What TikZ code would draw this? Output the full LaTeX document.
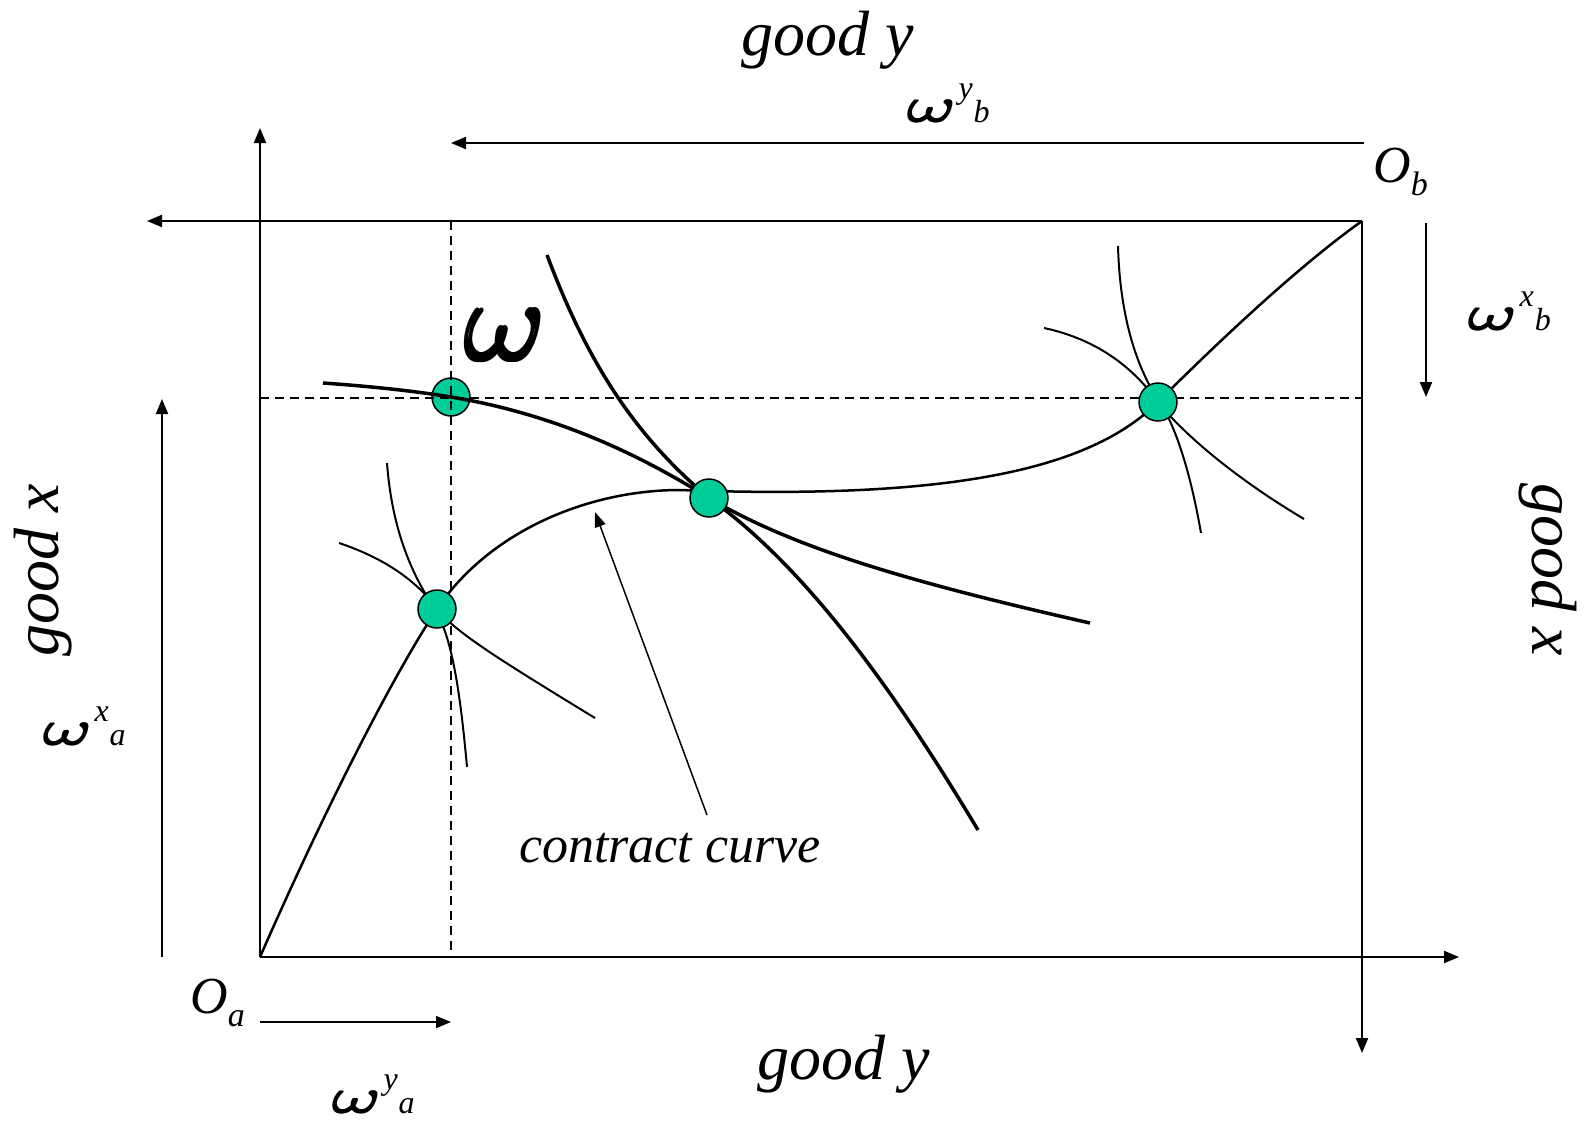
\documentclass[tikz,border=0pt]{standalone}
\usepackage{fontspec}
\setmainfont{Liberation Serif}
\usetikzlibrary{arrows.meta}

\definecolor{dotgreen}{RGB}{0,204,153}

% omega with slightly heavier strokes
\newcommand{\omg}{\makebox[0pt][l]{$\scriptstyle\omega$}\hspace{0.22pt}$\scriptstyle\omega$}
\newcommand{\wendow}[2]{\scalebox{9.5}[7.4]{\omg}\hspace{1pt}\raisebox{24pt}{\fontsize{32}{32}\selectfont #1}\hspace{1pt}{\fontsize{32}{32}\selectfont #2}}
\newcommand{\origin}[1]{{\fontsize{52}{52}\selectfont O}\raisebox{-13pt}{\fontsize{34}{34}\selectfont #1}}

\tikzset{
  axis/.style={line width=2pt, -{Triangle[length=15pt,width=12pt]}},
  guide/.style={line width=1.5pt, dash pattern=on 9pt off 6pt},
  indiff/.style={line width=2pt},
  bold curve/.style={line width=3.5pt},
  allocation/.style={circle, draw, fill=dotgreen, line width=1.5pt, minimum size=38pt, inner sep=0pt},
  lbl/.style={font=\itshape, inner sep=0pt},
  big lbl/.style={lbl, font=\itshape\fontsize{64}{64}\selectfont, anchor=base},
}

\begin{document}
\begin{tikzpicture}[x=1pt,y=-1pt]
\useasboundingbox (0,0) rectangle (1585,1122);

\coordinate (Oa) at (260,957);
\coordinate (Ob) at (1362,221);

% endowment, drawn under the guides
\node[allocation] (E) at (451,397) {};

\draw[guide] (451,221) -- (451,957);
\draw[guide] (260,398) -- (1362,398);

% axes of both consumers
\draw[axis] (Oa) -- (260,128);
\draw[axis] (Oa) -- (1459,957);
\draw[axis] (Ob) -- (147,221);
\draw[axis] (Ob) -- (1362,1053);

\coordinate (P1) at (437,609);
\coordinate (P2) at (709,498);
\coordinate (P3) at (1158,402);

% contract curve
\draw[line width=2.5pt] (Oa) .. controls (320,820) and (390,680) .. (P1)
  .. controls (490,530) and (590,490) .. (680,490)
  .. controls (950,500) and (1090,470) .. (P3)
  .. controls (1220,340) and (1300,265) .. (Ob);

% indifference curves
\draw[bold curve] (323,383) .. controls (380,387) and (420,392) .. (E.center)
  .. controls (560,415) and (645,458) .. (P2)
  .. controls (790,546) and (900,580) .. (1090,623);
\draw[bold curve] (547,255) .. controls (590,370) and (640,440) .. (P2)
  .. controls (810,570) and (900,700) .. (978,830);
\draw[indiff] (339,543) .. controls (390,560) and (420,585) .. (P1)
  .. controls (455,632) and (500,660) .. (595,718);
\draw[indiff] (387,463) .. controls (392,530) and (412,575) .. (435,609)
  .. controls (452,638) and (460,690) .. (467,767);
\draw[indiff] (1118,246) .. controls (1120,320) and (1138,370) .. (1159,401)
  .. controls (1175,425) and (1190,470) .. (1201,533);
\draw[indiff] (1044,328) .. controls (1100,340) and (1135,370) .. (P3)
  .. controls (1180,430) and (1230,475) .. (1304,519);

\node[allocation] (A1) at (P1) {};
\node[allocation] (A2) at (P2) {};
\node[allocation] (A3) at (P3) {};

% endowment arrows
\draw[axis] (1364,143) -- (451,143);
\draw[axis] (1426,223) -- (1426,397);
\draw[axis] (162,957) -- (162,399);
\draw[axis] (260,1022) -- (451,1022);

\node[big lbl] (topy) at (828,55) {good y};
\node[big lbl] (boty) at (844,1079) {good y};
\node[big lbl, rotate=90] (leftx) at (58,570) {good x};
\node[big lbl, rotate=-90] (rightx) at (1532,570) {good x};

\node[lbl, anchor=base west] (wyb) at (905,122) {\wendow{y}{b}};
\node[lbl, anchor=base west] (wxb) at (1466,330) {\wendow{x}{b}};
\node[lbl, anchor=base west] (wxa) at (41,745) {\wendow{x}{a}};
\node[lbl, anchor=base west] (wya) at (330,1113) {\wendow{y}{a}};
\node[lbl, anchor=base west] (ob) at (1373,182) {\origin{b}};
\node[lbl, anchor=base west] (oa) at (190,1013) {\origin{a}};

\node[inner sep=0pt, anchor=base] (omega) at (505,361) {\scalebox{16}[17.5]{\omg}};

\node[lbl, anchor=base, font=\itshape\fontsize{52}{52}\selectfont] (cc) at (670,862) {contract curve};
\coordinate (cctail) at (707,815);
\draw[line width=1.5pt, -{Triangle[length=15pt,width=11pt]}] (cctail) -- (595,512);
\end{tikzpicture}
\end{document}
